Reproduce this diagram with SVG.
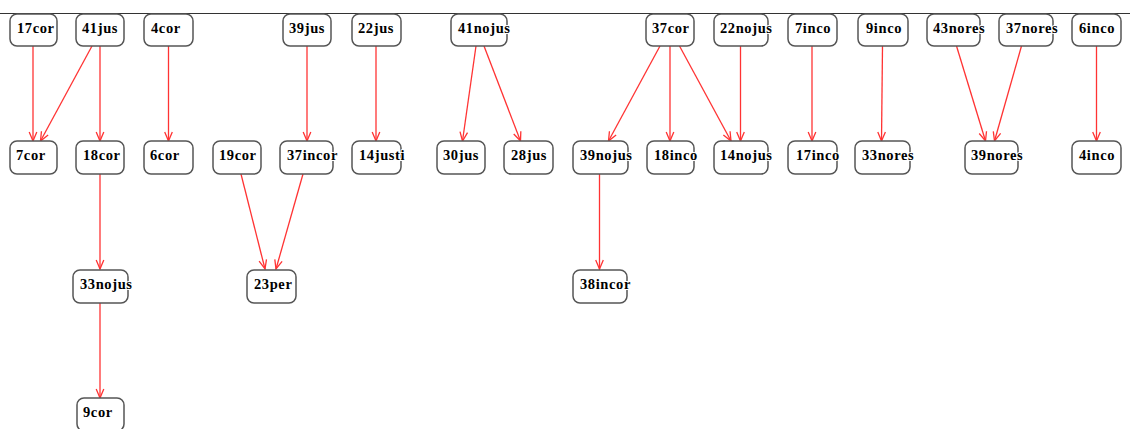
<svg xmlns="http://www.w3.org/2000/svg" width="1130" height="429" viewBox="0 0 1130 429">
  <style>
    .node rect { fill: #ffffff; stroke: #555555; stroke-width: 1.5; }
    .node text { font-family: "Liberation Serif", "Times New Roman", serif; font-weight: bold; font-size: 14.5px; letter-spacing: 0.6px; fill: #000000; stroke: #ffffff; stroke-width: 2; paint-order: stroke; }
    .edges line { stroke: #ff3333; stroke-width: 1.3; fill: none; marker-end: url(#arr); }
    .rule { stroke: #333333; stroke-width: 1; }
  </style>
  <defs>
    <marker id="arr" viewBox="-11 -5 12 10" refX="0" refY="0" markerWidth="12" markerHeight="10" markerUnits="userSpaceOnUse" orient="auto">
      <path d="M-9,-3.8 L0,0 L-9,3.8" fill="none" stroke="#ff3333" stroke-width="1.3"/>
    </marker>
  </defs>

  <rect x="0" y="0" width="1130" height="429" fill="#ffffff"/>
  <line class="rule" x1="0" y1="13.5" x2="1130" y2="13.5"/>

  <!-- connectors -->
  <g id="edges" class="edges">
    <line x1="33" y1="46" x2="33" y2="141"/>
    <line x1="92" y1="46" x2="40.5" y2="141"/>
    <line x1="100" y1="46" x2="100" y2="141"/>
    <line x1="168.5" y1="46" x2="168.5" y2="141"/>
    <line x1="307" y1="46" x2="307" y2="141"/>
    <line x1="376" y1="46" x2="376" y2="141"/>
    <line x1="476" y1="46" x2="462.5" y2="141"/>
    <line x1="484" y1="46" x2="520.5" y2="141"/>
    <line x1="660" y1="46" x2="608.5" y2="141"/>
    <line x1="670" y1="46" x2="670" y2="141"/>
    <line x1="679.5" y1="46" x2="731" y2="141"/>
    <line x1="740.5" y1="46" x2="740.5" y2="141"/>
    <line x1="812" y1="46" x2="812" y2="141"/>
    <line x1="882.5" y1="46" x2="881.5" y2="141"/>
    <line x1="956.5" y1="46" x2="985.5" y2="141"/>
    <line x1="1021.5" y1="46" x2="994.5" y2="141"/>
    <line x1="1096.5" y1="46" x2="1096.5" y2="141"/>
    <line x1="100" y1="174" x2="100" y2="269"/>
    <line x1="241" y1="174" x2="265" y2="269"/>
    <line x1="303" y1="174" x2="276" y2="269"/>
    <line x1="599.5" y1="174" x2="599.5" y2="269"/>
    <line x1="100" y1="303" x2="100" y2="398"/>
  </g>

  <!-- top row -->
  <g id="n17cor" class="node"><rect x="10" y="14" width="47" height="32" rx="7"/><text x="17" y="33">17cor</text></g>
  <g id="n41jus" class="node"><rect x="76" y="14" width="48" height="32" rx="7"/><text x="82" y="33">41jus</text></g>
  <g id="n4cor" class="node"><rect x="144" y="14" width="49" height="32" rx="7"/><text x="151" y="33">4cor</text></g>
  <g id="n39jus" class="node"><rect x="283" y="14" width="48" height="32" rx="7"/><text x="289" y="33">39jus</text></g>
  <g id="n22jus" class="node"><rect x="352" y="14" width="49" height="32" rx="7"/><text x="358" y="33">22jus</text></g>
  <g id="n41nojus" class="node"><rect x="451" y="14" width="56" height="32" rx="7"/><text x="458" y="33">41nojus</text></g>
  <g id="n37cor" class="node"><rect x="646" y="14" width="48" height="32" rx="7"/><text x="652" y="33">37cor</text></g>
  <g id="n22nojus" class="node"><rect x="714" y="14" width="54" height="32" rx="7"/><text x="720" y="33">22nojus</text></g>
  <g id="n7inco" class="node"><rect x="788" y="14" width="49" height="32" rx="7"/><text x="795" y="33">7inco</text></g>
  <g id="n9inco" class="node"><rect x="858" y="14" width="50" height="32" rx="7"/><text x="866" y="33">9inco</text></g>
  <g id="n43nores" class="node"><rect x="927" y="14" width="53" height="32" rx="7"/><text x="933" y="33">43nores</text></g>
  <g id="n37nores" class="node"><rect x="999" y="14" width="54" height="32" rx="7"/><text x="1006" y="33">37nores</text></g>
  <g id="n6inco" class="node"><rect x="1072" y="14" width="49" height="32" rx="7"/><text x="1079" y="33">6inco</text></g>

  <!-- second row -->
  <g id="n7cor" class="node"><rect x="10" y="141" width="47" height="33" rx="7"/><text x="16" y="160">7cor</text></g>
  <g id="n18cor" class="node"><rect x="76" y="141" width="48" height="33" rx="7"/><text x="83" y="160">18cor</text></g>
  <g id="n6cor" class="node"><rect x="144" y="141" width="49" height="33" rx="7"/><text x="150" y="160">6cor</text></g>
  <g id="n19cor" class="node"><rect x="213" y="141" width="48" height="33" rx="7"/><text x="219" y="160">19cor</text></g>
  <g id="n37incor" class="node"><rect x="280" y="141" width="53" height="33" rx="7"/><text x="287" y="160">37incor</text></g>
  <g id="n14justi" class="node"><rect x="352" y="141" width="49" height="33" rx="7"/><text x="359" y="160">14justi</text></g>
  <g id="n30jus" class="node"><rect x="437" y="141" width="48" height="33" rx="7"/><text x="443" y="160">30jus</text></g>
  <g id="n28jus" class="node"><rect x="504" y="141" width="49" height="33" rx="7"/><text x="511" y="160">28jus</text></g>
  <g id="n39nojus" class="node"><rect x="573" y="141" width="55" height="33" rx="7"/><text x="580" y="160">39nojus</text></g>
  <g id="n18inco" class="node"><rect x="647" y="141" width="47" height="33" rx="7"/><text x="654" y="160">18inco</text></g>
  <g id="n14nojus" class="node"><rect x="714" y="141" width="54" height="33" rx="7"/><text x="720" y="160">14nojus</text></g>
  <g id="n17inco" class="node"><rect x="788" y="141" width="49" height="33" rx="7"/><text x="796" y="160">17inco</text></g>
  <g id="n33nores" class="node"><rect x="855" y="141" width="55" height="33" rx="7"/><text x="862" y="160">33nores</text></g>
  <g id="n39nores" class="node"><rect x="965" y="141" width="53" height="33" rx="7"/><text x="971" y="160">39nores</text></g>
  <g id="n4inco" class="node"><rect x="1072" y="141" width="49" height="33" rx="7"/><text x="1079" y="160">4inco</text></g>

  <!-- third row -->
  <g id="n33nojus" class="node"><rect x="73" y="270" width="55" height="33" rx="7"/><text x="80" y="289">33nojus</text></g>
  <g id="n23per" class="node"><rect x="247" y="270" width="49" height="33" rx="7"/><text x="254" y="289">23per</text></g>
  <g id="n38incor" class="node"><rect x="573" y="270" width="54" height="33" rx="7"/><text x="580" y="289">38incor</text></g>

  <!-- fourth row -->
  <g id="n9cor" class="node"><rect x="77" y="398" width="47" height="33" rx="7"/><text x="83" y="417">9cor</text></g>
</svg>
